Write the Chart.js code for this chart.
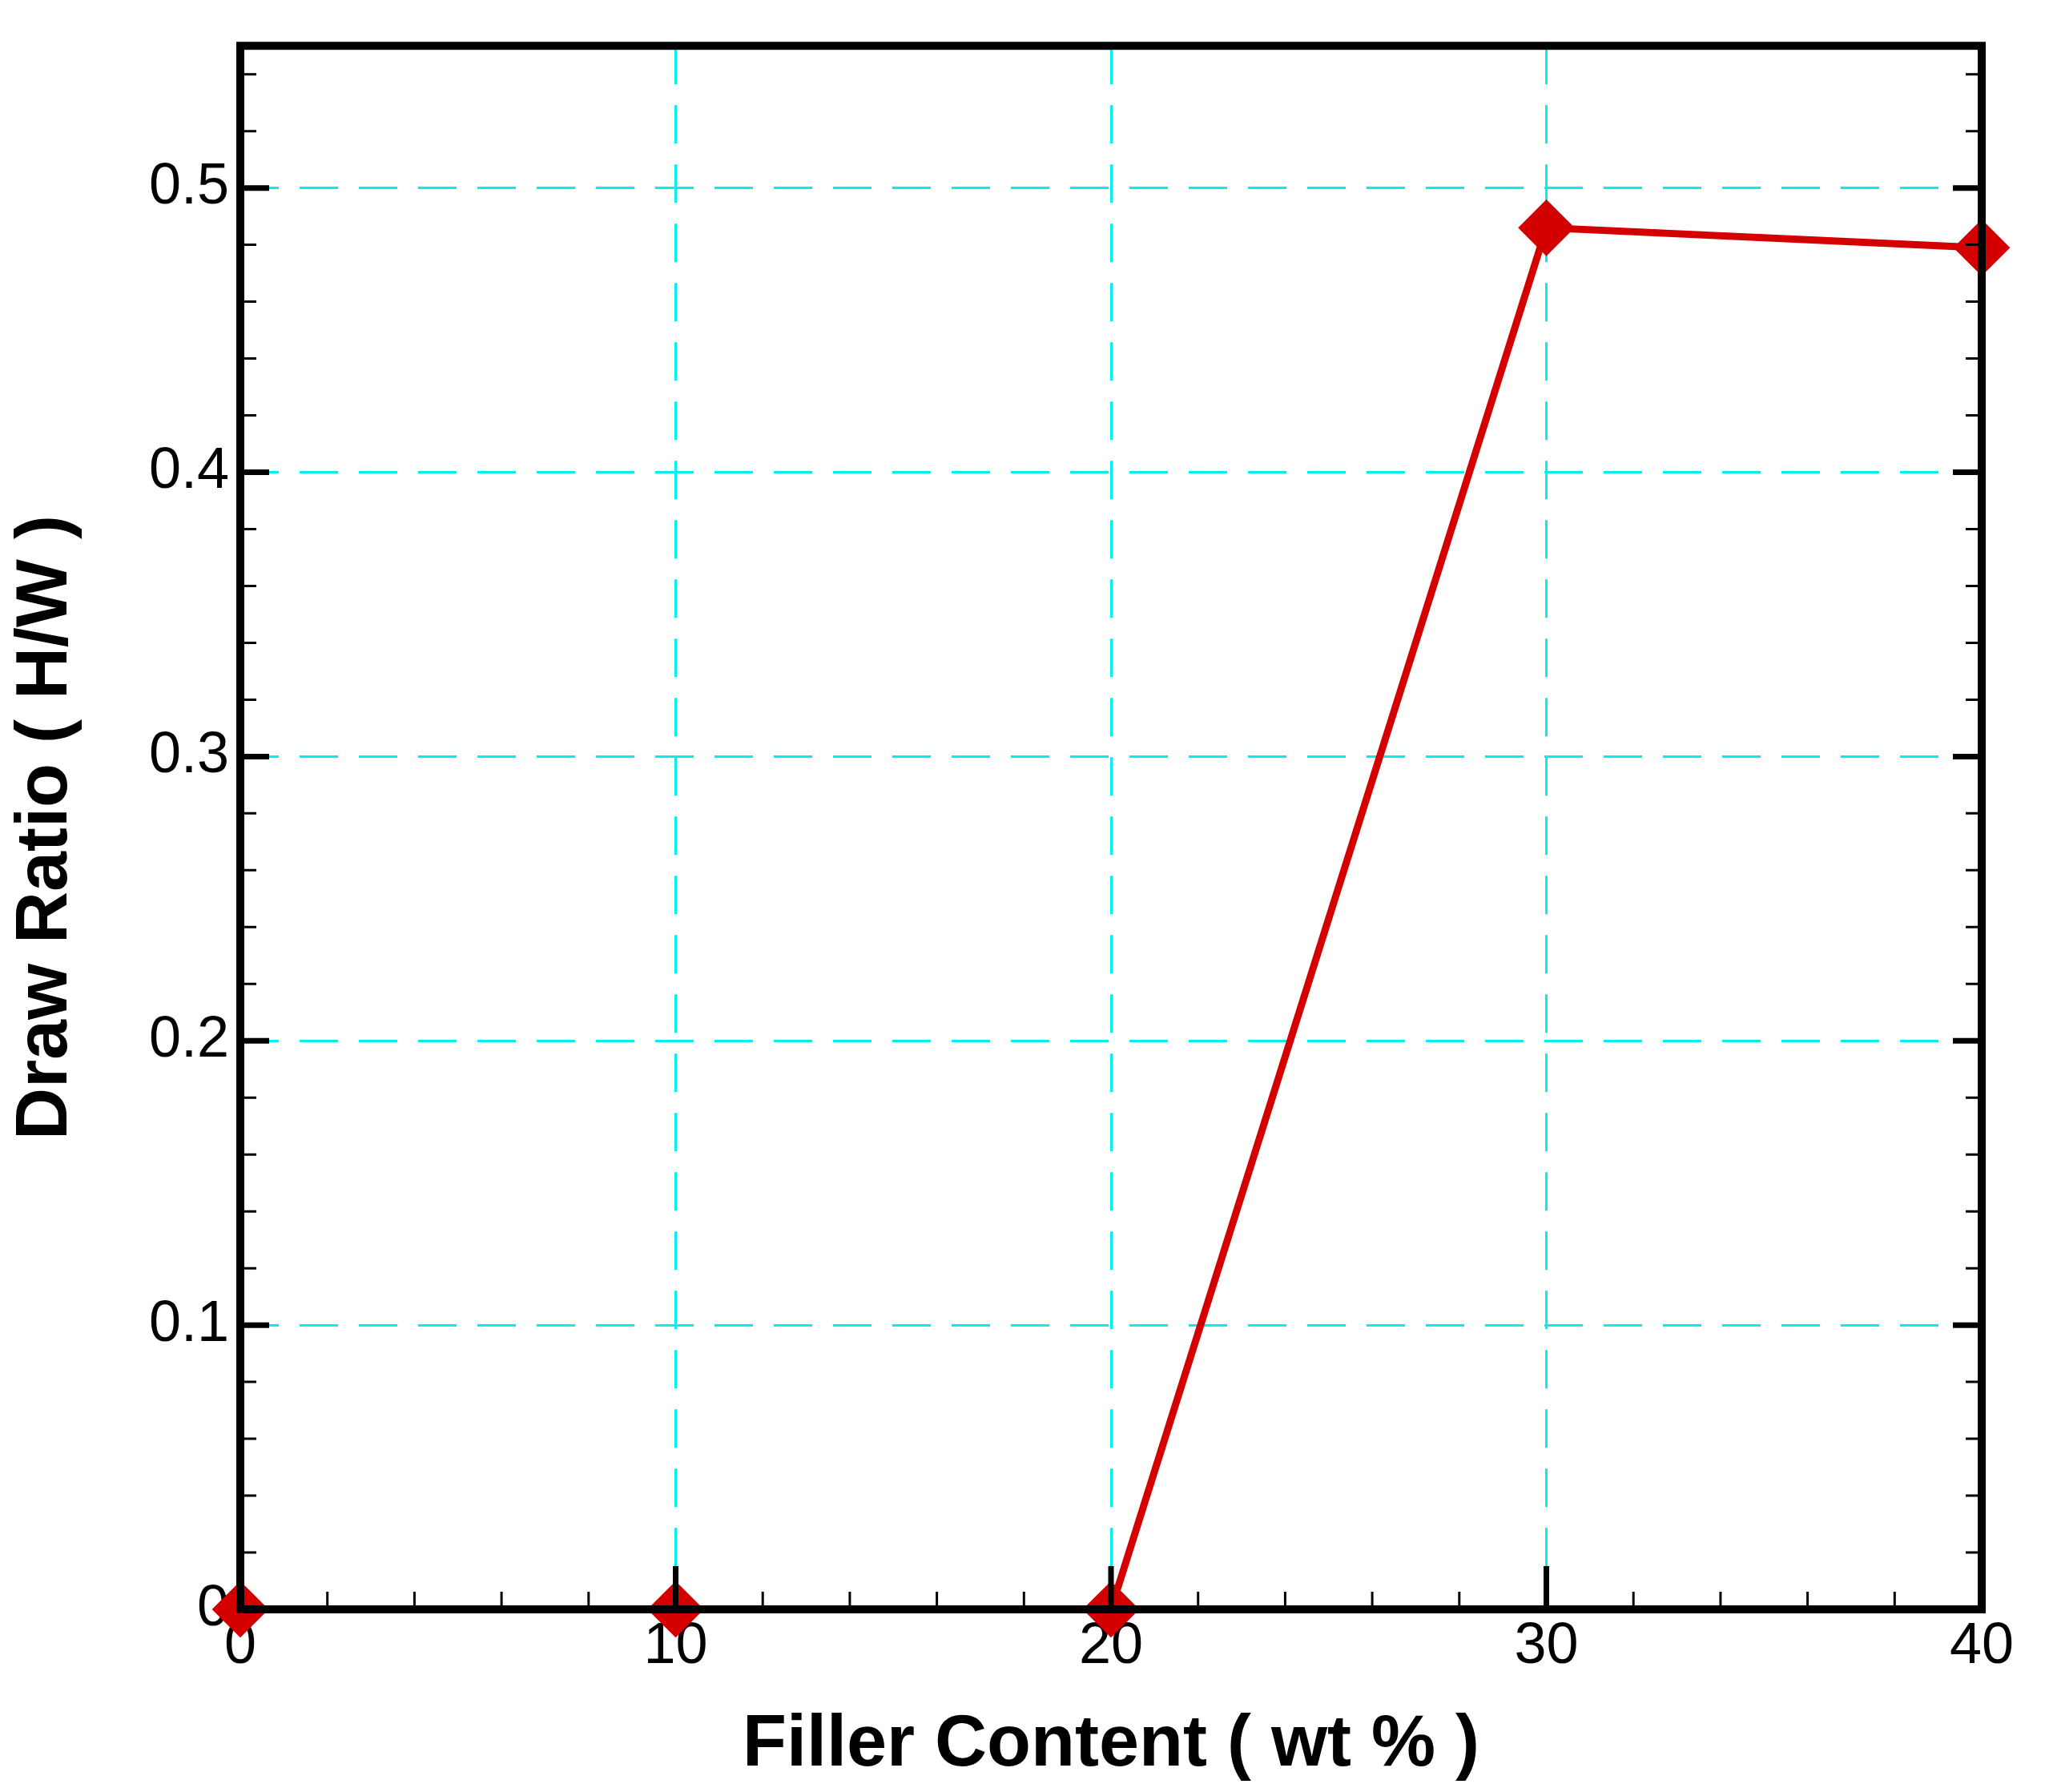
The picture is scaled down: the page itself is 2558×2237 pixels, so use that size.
<!DOCTYPE html>
<html><head><meta charset="utf-8">
<script src="https://cdn.jsdelivr.net/npm/chart.js@4"></script>
<style>html,body{margin:0;padding:0;background:#fff}#w{width:2558px;height:2237px}</style>
</head><body><div id="w"><canvas id="c"></canvas></div>
<script>
const fillerContent = [0, 10, 20, 30, 40];
const drawRatio = [0, 0, 0, 0.486, 0.479];
const xTicks = [0, 10, 20, 30, 40];
const yTicks = [0, 0.1, 0.2, 0.3, 0.4, 0.5];

const inwardTicks = {
  id: 'inwardTicks',
  afterDatasetsDraw(chart) {
    const {ctx, chartArea: a, scales: {x, y}} = chart;
    ctx.save();
    ctx.strokeStyle = '#000';
    for (let v = 0; v <= 0.5501; v += 0.02) {
      const p = y.getPixelForValue(v);
      const major = Math.abs(v * 10 - Math.round(v * 10)) < 1e-6;
      const L = major ? 36 : 20;
      ctx.lineWidth = major ? 7 : 3;
      ctx.beginPath(); ctx.moveTo(a.left, p); ctx.lineTo(a.left + L, p);
      ctx.moveTo(a.right, p); ctx.lineTo(a.right - L, p); ctx.stroke();
    }
    for (let v = 0; v <= 40.001; v += 2) {
      const p = x.getPixelForValue(v);
      const major = v % 10 === 0;
      const L = major ? 54 : 22;
      ctx.lineWidth = major ? 7 : 3;
      ctx.beginPath(); ctx.moveTo(p, a.bottom); ctx.lineTo(p, a.bottom - L); ctx.stroke();
    }
    ctx.lineWidth = 10;
    ctx.strokeRect(a.left, a.top, a.right - a.left, a.bottom - a.top);
    ctx.restore();
  }
};

new Chart(document.getElementById('c'), {
  type: 'scatter',
  data: { datasets: [{
    data: fillerContent.map((x, i) => ({x, y: drawRatio[i]})),
    showLine: true, borderColor: '#d40000', backgroundColor: '#d40000',
    borderWidth: 9, pointStyle: 'rectRot', pointRadius: 29, pointHoverRadius: 29,
    clip: false
  }]},
  options: {
    responsive: true, maintainAspectRatio: false, animation: false,
    layout: { padding: { top: 10, right: 84 } },
    plugins: { legend: { display: false }, tooltip: { enabled: false } },
    scales: {
      x: {
        type: 'linear', min: 0, max: 40,
        afterBuildTicks: s => { s.ticks = xTicks.map(v => ({value: v})); },
        afterFit: s => { s.height = 228; },
        ticks: { font: { family: 'Liberation Sans', size: 72 }, color: '#000', padding: 4, maxRotation: 0 },
        grid: { color: '#00f0f0', lineWidth: 3, drawTicks: false },
        border: { display: false, dash: [48, 26] },
        title: { display: true, text: 'Filler Content ( wt % )', color: '#000',
          font: { family: 'Liberation Sans', size: 90, weight: 'bold' }, padding: { top: -14 } }
      },
      y: {
        type: 'linear', min: 0, max: 0.55,
        afterBuildTicks: s => { s.ticks = yTicks.map(v => ({value: v})); },
        afterFit: s => { s.width = 300; },
        ticks: { font: { family: 'Liberation Sans', size: 72 }, color: '#000', padding: 14,
          callback: v => v === 0 ? '0' : v.toFixed(1) },
        grid: { color: '#00f0f0', lineWidth: 3, drawTicks: false },
        border: { display: false, dash: [48, 26] },
        title: { display: true, text: 'Draw Ratio ( H/W )', color: '#000',
          font: { family: 'Liberation Sans', size: 90, weight: 'bold' }, padding: { bottom: 30 } }
      }
    }
  },
  plugins: [inwardTicks]
});
</script></body></html>
